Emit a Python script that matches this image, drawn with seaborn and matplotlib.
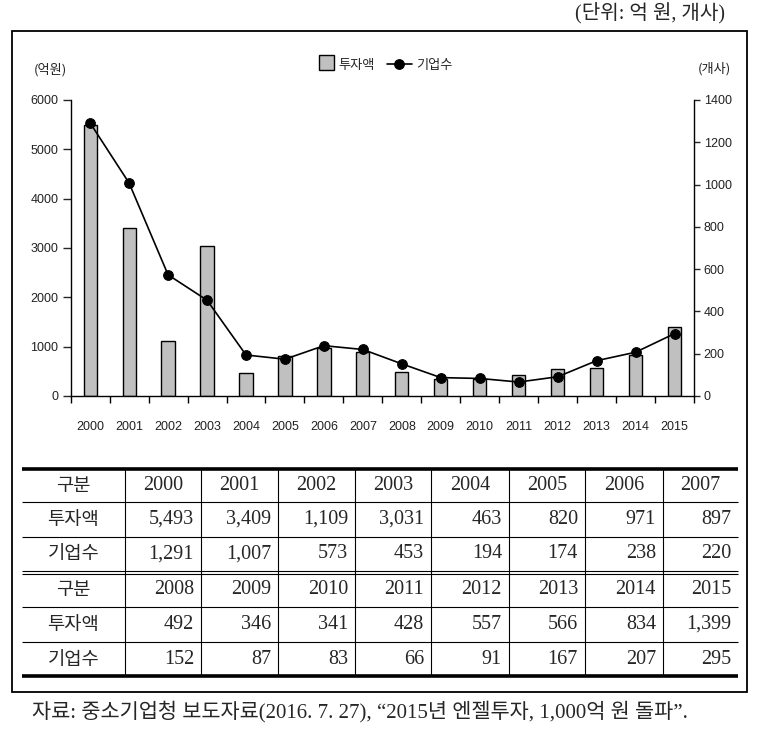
import numpy as np
import pandas as pd
import matplotlib
matplotlib.use("Agg")
import matplotlib.pyplot as plt
import seaborn as sns
from matplotlib.patches import Rectangle
from matplotlib.legend_handler import HandlerPatch

# ---------------- data ----------------
years = [str(y) for y in range(2000, 2016)]
investment = [5493, 3409, 1109, 3031, 463, 820, 971, 897,
              492, 346, 341, 428, 557, 566, 834, 1399]
companies = [1291, 1007, 573, 453, 194, 174, 238, 220,
             152, 87, 83, 66, 91, 167, 207, 295]
left_ticks = [0, 1000, 2000, 3000, 4000, 5000, 6000]
right_ticks = [0, 200, 400, 600, 800, 1000, 1200, 1400]
bar_name = "투자액"
line_name = "기업수"
row_header = "구분"
unit_left = "(억원)"
unit_right = "(개사)"
unit_note = "(단위: 억 원, 개사)"
source_note = "자료: 중소기업청 보도자료(2016. 7. 27), “2015년 엔젤투자, 1,000억 원 돌파”."

# ---------------- style ----------------
sns.set_theme(style="white")
plt.rcParams['font.family'] = ['Liberation Sans', 'Noto Sans CJK KR']
KR = ['Noto Sans CJK KR', 'DejaVu Sans']
SERIF = ['Liberation Serif', 'Noto Sans CJK KR']

W, H = 758, 735
fig = plt.figure(figsize=(W / 100, H / 100), dpi=100)
fig.patch.set_facecolor("white")


def fx(px):
    return px / W


def fy(py):
    return 1 - py / H


# ---------------- chart ----------------
ax = fig.add_axes([fx(70.7), fy(396), fx(694 - 70.7), (396 - 100) / H])
df = pd.DataFrame({"year": years, "investment": investment,
                   "companies": companies, "idx": np.arange(len(years))})

sns.barplot(data=df, x="year", y="investment", color="#c0c0c0",
            saturation=1, edgecolor="black", linewidth=1.0, width=0.34, ax=ax)
ax2 = ax.twinx()
sns.lineplot(data=df, x="idx", y="companies", color="black", marker="o",
             markersize=7, markeredgecolor="black", linewidth=1.2, ax=ax2)

ax.set_xlim(-0.5, len(years) - 0.5)
ax2.set_xlim(-0.5, len(years) - 0.5)
ax.set_ylim(0, 6000)
ax2.set_ylim(0, 1400)
ax.set_yticks(left_ticks)
ax2.set_yticks(right_ticks)
ax.set_xticks(range(len(years)))
ax.set_xticklabels(years)
ax.set_xticks(np.arange(-0.5, len(years), 1), minor=True)
for a in (ax, ax2):
    a.set_xlabel("")
    a.set_ylabel("")
    a.set_facecolor("none")

ax.tick_params(axis='x', which='major', length=0, pad=18, labelsize=9)
ax.tick_params(axis='x', which='minor', bottom=True, length=5, width=1, direction='out', color='black')
ax.tick_params(axis='y', left=True, length=6, width=1, direction='out', pad=3, labelsize=9)
ax2.tick_params(axis='y', right=True, length=4, width=1, direction='out', pad=3, labelsize=9)
for t in ax.get_yticklabels() + ax2.get_yticklabels() + ax.get_xticklabels():
    t.set_color('#222222')

ax.spines['top'].set_visible(False)
ax.spines['right'].set_visible(False)
for s in ('left', 'top', 'bottom'):
    ax2.spines[s].set_visible(False)
for s in ('left', 'bottom'):
    ax.spines[s].set_color('black')
    ax.spines[s].set_linewidth(1)
ax2.spines['right'].set_color('black')
ax2.spines['right'].set_linewidth(1)


# legend
def square_patch(legend, orig_handle, xdescent, ydescent, width, height, fontsize):
    s = 11
    return Rectangle((-xdescent + width - s, -ydescent + (height - s) / 2 + 1), s, s)


bar_handle = ax.patches[0]
line_handle = ax2.lines[0]
fig.legend([bar_handle, line_handle], [bar_name, line_name], loc='center',
           bbox_to_anchor=(fx(381), fy(65)), ncol=2, frameon=False,
           handlelength=1.9, handletextpad=0.35, columnspacing=0.9,
           prop={'family': KR, 'size': 9.5},
           handler_map={bar_handle: HandlerPatch(patch_func=square_patch)})

fig.text(fx(50), fy(70), unit_left, ha='center', va='center', fontsize=9.5, family=KR, color='#222222')
fig.text(fx(714), fy(69), unit_right, ha='center', va='center', fontsize=9.5, family=KR, color='#222222')

# ---------------- frame ----------------
fig.add_artist(Rectangle((fx(12), fy(692)), fx(747 - 12), (692 - 30.7) / H,
                         transform=fig.transFigure, fill=False, lw=1.3, edgecolor='black'))

fig.text(fx(725), fy(13), unit_note, ha='right', va='center', fontsize=14.5, family=SERIF)

# ---------------- table ----------------
axt = fig.add_axes([fx(22), fy(676), fx(738 - 22), (676 - 469) / H])
axt.set_xlim(0, 716)
axt.set_ylim(207, 0)
axt.axis('off')

col_edges = [0, 103, 179, 256, 333, 409, 487, 563, 641, 716]
row_centers = [[16.5, 50.5, 85.0], [120.5, 155.5, 190.0]]

for y, lw in [(0, 2.6), (207, 2.6), (33, 0.8), (68, 0.8), (101.5, 0.8), (104.5, 0.8),
              (138, 0.8), (173, 0.8)]:
    axt.plot([0, 716], [y, y], color='black', lw=lw, clip_on=False, solid_capstyle='butt')
for x in col_edges[1:-1]:
    axt.plot([x, x], [0, 207], color='black', lw=0.8, clip_on=False)

n = len(years) // 2
for part in range(2):
    sl = slice(part * n, (part + 1) * n)
    yrs = years[sl]
    inv = investment[sl]
    com = companies[sl]
    yc = row_centers[part]
    for lab, yy in zip([row_header, bar_name, line_name], yc):
        axt.text(51.5, yy, lab, ha='center', va='center', fontsize=13.5, family=KR)
    for j in range(n):
        l, r = col_edges[j + 1], col_edges[j + 2]
        if part == 0:
            axt.text((l + r) / 2, yc[0], yrs[j], ha='center', va='center', fontsize=14.5, family=SERIF)
        else:
            axt.text(r - 7, yc[0], yrs[j], ha='right', va='center', fontsize=14.5, family=SERIF)
        axt.text(r - 7, yc[1], f"{inv[j]:,}", ha='right', va='center', fontsize=14.5, family=SERIF)
        axt.text(r - 7, yc[2], f"{com[j]:,}", ha='right', va='center', fontsize=14.5, family=SERIF)

fig.text(fx(32), fy(712), source_note, ha='left', va='center', fontsize=15, family=SERIF)

fig.savefig("out.png", dpi=100)
